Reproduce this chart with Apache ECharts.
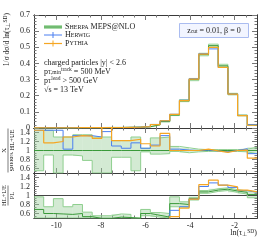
<!DOCTYPE html>
<html><head><meta charset="utf-8">
<script src="https://cdn.jsdelivr.net/npm/echarts@6/dist/echarts.min.js"></script>
<style>html,body{margin:0;padding:0;background:#fff}#c{width:266px;height:240px}</style>
</head><body><div id="c"></div>
<script>
// ---- data ----
const binEdges = [-11,-10.565,-10.130,-9.696,-9.261,-8.826,-8.391,-7.957,-7.522,-7.087,-6.652,-6.217,-5.783,-5.348,-4.913,-4.478,-4.043,-3.609,-3.174,-2.739,-2.304,-1.870,-1.435,-1.0];
const mainSherpa   = [0.001,0.001,0.001,0.001,0.002,0.002,0.002,0.003,0.003,0.004,0.005,0.008,0.020,0.040,0.080,0.168,0.300,0.455,0.510,0.385,0.210,0.078,0.020];
const mainSherpaLo = [0.000,0.000,0.000,0.000,0.001,0.001,0.001,0.002,0.002,0.003,0.004,0.007,0.018,0.037,0.077,0.163,0.293,0.447,0.500,0.377,0.205,0.075,0.018];
const mainSherpaHi = [0.002,0.002,0.002,0.002,0.003,0.003,0.003,0.004,0.004,0.005,0.006,0.009,0.022,0.043,0.083,0.176,0.307,0.463,0.520,0.395,0.215,0.081,0.022];
const mainHerwig   = [0.001,0.001,0.001,0.001,0.002,0.002,0.002,0.003,0.003,0.004,0.005,0.008,0.022,0.045,0.085,0.172,0.305,0.460,0.490,0.375,0.210,0.078,0.021];
const mainPythia   = [0.001,0.001,0.001,0.001,0.002,0.002,0.002,0.003,0.003,0.004,0.005,0.008,0.021,0.045,0.085,0.170,0.303,0.458,0.500,0.375,0.210,0.077,0.017];

const r1Sherpa   = [1,1,1,1,1,1,1,1,1,1,1,1,1,1,1,1,1,1,1,1,1,1,1];
const r1SherpaHi = [1.45,1.45,1.30,1.30,1.35,1.35,1.30,1.30,1.22,1.22,1.30,1.05,1.28,1.30,1.09,1.06,1.03,1.02,1.02,1.02,1.02,1.03,1.07];
const r1SherpaLo = [0.55,0.90,0.50,0.90,0.88,0.78,0.50,0.50,0.85,0.85,0.55,0.97,0.92,0.93,0.98,0.95,0.97,0.98,0.98,0.98,0.98,0.97,0.93];
const r1Herwig   = [1.45,1.45,1.45,1.03,1.33,1.33,1.30,1.42,1.10,1.05,1.17,1.05,1.12,1.33,1.03,1.01,1.00,1.01,0.99,0.97,1.00,1.04,0.93];
const r1Pythia   = [1.45,1.17,1.20,1.30,1.33,1.32,1.27,1.55,1.22,1.22,1.25,1.15,1.10,1.38,1.00,1.00,1.00,1.03,0.99,0.96,1.00,1.01,0.83];

const r2Sherpa   = [0.69,0.60,0.59,0.58,0.60,0.53,0.49,0.49,0.52,0.51,0.49,0.60,0.56,0.52,0.82,0.80,0.93,1.08,1.12,1.14,1.10,1.07,1.02];
const r2SherpaHi = [0.97,0.75,0.93,0.75,0.80,0.63,0.55,0.55,0.59,0.58,0.50,0.69,0.62,0.60,0.97,0.86,0.96,1.11,1.15,1.17,1.13,1.10,1.09];
const r2SherpaLo = [0.50,0.50,0.50,0.50,0.50,0.50,0.50,0.50,0.50,0.50,0.50,0.55,0.52,0.50,0.75,0.74,0.90,1.05,1.09,1.11,1.07,1.03,0.95];
const r2Herwig   = [0.45,0.45,0.45,0.45,0.45,0.45,0.45,0.45,0.45,0.45,0.45,0.45,0.45,0.45,0.67,0.75,0.92,1.20,1.28,1.23,1.18,1.11,1.07];
const r2Pythia   = [0.45,0.45,0.45,0.45,0.45,0.45,0.45,0.45,0.45,0.45,0.45,0.45,0.45,0.45,0.53,0.72,0.92,1.24,1.34,1.23,1.19,1.12,1.08];
const r2Ref = [1,1];

const xMajorTicks = [-10,-8,-6,-4,-2];
const xMinorTicks = [-10.5,-9.5,-9,-8.5,-7.5,-7,-6.5,-5.5,-5,-4.5,-3.5,-3,-2.5,-1.5];
const mainYTicks = [0,0.1,0.2,0.3,0.4,0.5,0.6,0.7];
const mainYMinor = [0.02,0.04,0.06,0.08,0.12,0.14,0.16,0.18,0.22,0.24,0.26,0.28,0.32,0.34,0.36,0.38,0.42,0.44,0.46,0.48,0.52,0.54,0.56,0.58,0.62,0.64,0.66,0.68];
const ratioYTicks = [0.6,0.8,1,1.2,1.4];
const ratioYMinor = [0.55,0.65,0.7,0.75,0.85,0.9,0.95,1.05,1.1,1.15,1.25,1.3,1.35,1.45];

// ---- style ----
const FONT = 'Liberation Serif';
const frameCol = '#3a3a3a', tickCol = '#777';
const green = '#3a9a3a', greenEdge = '#8fcf8f', greenFill = 'rgba(150,205,150,0.42)';
const blue = '#4a7ff0', orange = '#f5a623';

const grids = [
  {left:34, right:9, top:15, height:113},
  {left:34, right:9, top:128, height:45},
  {left:34, right:9, top:173, height:45}
];

const xAxes = [], yAxes = [];
function addX(gi, pos, ticks, len, labels){
  xAxes.push({type:'value', gridIndex:gi, position:pos, min:-11, max:-1,
    axisLine:{show:true, onZero:false, lineStyle:{color:frameCol, width:1}},
    axisTick:{show:true, inside:true, length:len, customValues:ticks, lineStyle:{color:tickCol}},
    axisLabel:{show:!!labels, customValues:ticks, margin:4, fontFamily:FONT, fontSize:8, color:'#222'},
    splitLine:{show:false}});
  return xAxes.length-1;
}
function addY(gi, pos, min, max, ticks, len, labels, fmt){
  yAxes.push({type:'value', gridIndex:gi, position:pos, min, max,
    axisLine:{show:true, onZero:false, lineStyle:{color:frameCol, width:1}},
    axisTick:{show:true, inside:true, length:len, customValues:ticks, lineStyle:{color:tickCol}},
    axisLabel:{show:!!labels, customValues:ticks, margin:4, fontFamily:FONT, fontSize:8, color:'#222', formatter:fmt},
    splitLine:{show:false}});
  return yAxes.length-1;
}
const xIdx = [], yIdx = [];
for (let g=0; g<3; g++){
  xIdx.push(addX(g,'bottom',xMajorTicks,5,g===2));
  addX(g,'bottom',xMinorTicks,2.5,false);
  addX(g,'top',xMajorTicks,5,false);
  addX(g,'top',xMinorTicks,2.5,false);
}
const rfmt = v => (Math.abs(v-1)<1e-9 ? '1' : v.toFixed(1));
yIdx.push(addY(0,'left',0,0.7,mainYTicks,5,true, v=>v===0?'0':String(+v.toFixed(1))));
addY(0,'left',0,0.7,mainYMinor,2.5,false);
addY(0,'right',0,0.7,mainYTicks,5,false);
addY(0,'right',0,0.7,mainYMinor,2.5,false);
for (let g=1; g<3; g++){
  yIdx.push(addY(g,'left',0.5,1.5,ratioYTicks,5,true,rfmt));
  addY(g,'left',0.5,1.5,ratioYMinor,2.5,false);
  addY(g,'right',0.5,1.5,ratioYTicks,5,false);
  addY(g,'right',0.5,1.5,ratioYMinor,2.5,false);
}

function stepSeries(vals, g, color, w, z){
  const d = vals.map((v,i)=>[binEdges[i], v]);
  d.push([binEdges[vals.length], vals[vals.length-1]]);
  return {type:'line', step:'end', data:d, xAxisIndex:xIdx[g], yAxisIndex:yIdx[g],
    symbol:'none', lineStyle:{color, width:w}, z, animation:false, clip:true, silent:true};
}
function bandSeries(lo, hi, g, color, z){
  return {type:'custom', xAxisIndex:xIdx[g], yAxisIndex:yIdx[g], z, clip:true, silent:true, animation:false,
    encode:{x:[0,1], y:[2,3]},
    data: lo.map((l,i)=>[binEdges[i], binEdges[i+1], l, hi[i]]),
    renderItem:(params, api)=>{
      const p0 = api.coord([api.value(0), api.value(3)]);
      const p1 = api.coord([api.value(1), api.value(2)]);
      const r = echarts.graphic.clipRectByRect({x:p0[0], y:p0[1], width:p1[0]-p0[0], height:p1[1]-p0[1]}, params.coordSys);
      return r ? {type:'rect', shape:r, style:{fill:color}} : null;
    }};
}

const series = [
  bandSeries(mainSherpaLo, mainSherpaHi, 0, greenFill, 1),
  stepSeries(mainSherpaHi, 0, greenEdge, 0.8, 2),
  stepSeries(mainSherpaLo, 0, greenEdge, 0.8, 2),
  stepSeries(mainSherpa, 0, green, 1, 3),
  stepSeries(mainHerwig, 0, blue, 1, 4),
  stepSeries(mainPythia, 0, orange, 1.2, 5),

  bandSeries(r1SherpaLo, r1SherpaHi, 1, greenFill, 1),
  stepSeries(r1SherpaHi, 1, greenEdge, 1, 2),
  stepSeries(r1SherpaLo, 1, greenEdge, 1, 2),
  stepSeries(r1Sherpa, 1, green, 1, 3),
  stepSeries(r1Herwig, 1, blue, 1, 4),
  stepSeries(r1Pythia, 1, orange, 1.2, 5),

  {type:'line', data:[[-11,r2Ref[0]],[-1,r2Ref[1]]], xAxisIndex:xIdx[2], yAxisIndex:yIdx[2], symbol:'none', lineStyle:{color:'#444', width:1}, z:2, silent:true, animation:false},
  bandSeries(r2SherpaLo, r2SherpaHi, 2, greenFill, 1),
  stepSeries(r2SherpaHi, 2, greenEdge, 1, 2),
  stepSeries(r2SherpaLo, 2, greenEdge, 1, 2),
  stepSeries(r2Sherpa, 2, green, 1, 3),
  stepSeries(r2Herwig, 2, blue, 1, 4),
  stepSeries(r2Pythia, 2, orange, 1.2, 5)
];

const rich = {
  s:{fontFamily:FONT, fontSize:6, color:'#222'},
  b:{fontFamily:FONT, fontSize:8, color:'#222'},
  sub:{fontFamily:FONT, fontSize:5.5, color:'#222', verticalAlign:'bottom', padding:[3,0,0,0]},
  sup:{fontFamily:FONT, fontSize:5.5, color:'#222', verticalAlign:'top', padding:[0,0,3,0]}
};
function txt(x,y,text,align,extra,size){
  return Object.assign({type:'text', x, y, style:{text, rich, fontFamily:FONT, fontSize:size||8, fill:'#222', align:align||'left', verticalAlign:'middle'}, silent:true}, extra||{});
}
const graphics = [
  // legend
  {type:'rect', shape:{x:44,y:25,width:18,height:4}, style:{fill:'#a9dba9'}, silent:true},
  {type:'line', shape:{x1:44,y1:27,x2:62,y2:27}, style:{stroke:green, lineWidth:1}, silent:true},
  {type:'line', shape:{x1:44,y1:35,x2:62,y2:35}, style:{stroke:blue, lineWidth:1}, silent:true},
  {type:'line', shape:{x1:53,y1:32,x2:53,y2:38}, style:{stroke:blue, lineWidth:1}, silent:true},
  {type:'line', shape:{x1:44,y1:43.5,x2:62,y2:43.5}, style:{stroke:orange, lineWidth:1.2}, silent:true},
  {type:'line', shape:{x1:53,y1:40.5,x2:53,y2:46.5}, style:{stroke:orange, lineWidth:1}, silent:true},
  txt(65,27,'{b|S}{s|HERPA}{b| MEPS@NLO}'),
  txt(65,35,'{b|H}{s|ERWIG}'),
  txt(65,43.5,'{b|P}{s|YTHIA}'),
  // info text
  txt(44,62.5,'charged particles |{b|y}| < 2.6'),
  txt(44,71.5,'{b|p}{sub|T,min}{sup|track}{b| = 500 MeV}'),
  txt(44,80.5,'{b|p}{sub|T}{sup|lead}{b| > 500 GeV}'),
  txt(44,89.5,'√{b|s} = 13 TeV'),
  // zcut box
  {type:'rect', shape:{x:179.5,y:23.5,width:69,height:14}, style:{fill:'#f2f5ff', stroke:'#aabcf0', lineWidth:1}, silent:true, z:10},
  Object.assign(txt(214,30.5,'{b|z}{sub|cut}{b| = 0.01, β = 0}','center'), {z:11}),
  // axis titles
  Object.assign(txt(7,13,'1/σ dσ/d ln(τ{sub|⊥}{sup|SD})','right',null,7.5), {rotation:Math.PI/2}),
  {type:'group', x:8, y:150.5, rotation:Math.PI/2, silent:true, children:[
    {type:'text', x:0, y:-4, style:{text:'X', fontFamily:FONT, fontSize:7, fill:'#222', align:'center', verticalAlign:'middle'}},
    {type:'line', shape:{x1:-22,y1:0,x2:22,y2:0}, style:{stroke:'#222', lineWidth:0.6}},
    {type:'text', x:0, y:4, style:{text:'{s2|S}{s3|HERPA}{s2| HL+UE}', rich:{s2:{fontFamily:FONT,fontSize:6.5,color:'#222'}, s3:{fontFamily:FONT,fontSize:5,color:'#222'}}, align:'center', verticalAlign:'middle'}}
  ]},
  {type:'group', x:8, y:195.5, rotation:Math.PI/2, silent:true, children:[
    {type:'text', x:0, y:-4, style:{text:'HL+UE', fontFamily:FONT, fontSize:6.5, fill:'#222', align:'center', verticalAlign:'middle'}},
    {type:'line', shape:{x1:-10,y1:0,x2:10,y2:0}, style:{stroke:'#222', lineWidth:0.6}},
    {type:'text', x:0, y:4, style:{text:'PL', fontFamily:FONT, fontSize:6.5, fill:'#222', align:'center', verticalAlign:'middle'}}
  ]},
  txt(257,233,'ln(τ{sub|⊥}{sup|SD})','right')
];

const chart = echarts.init(document.getElementById('c'), null, {renderer:'canvas'});
chart.setOption({animation:false, grid:grids, xAxis:xAxes, yAxis:yAxes, series, graphic:graphics});
</script></body></html>
